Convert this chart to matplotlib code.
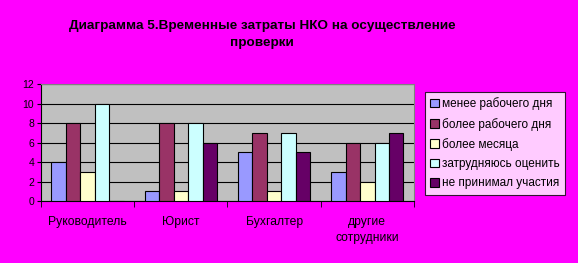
import numpy as np
import matplotlib.pyplot as plt
from matplotlib.patches import Patch

plt.rcParams['font.family'] = ['Liberation Sans', 'DejaVu Sans']

categories = ["Руководитель", "Юрист", "Бухгалтер", "другие\nсотрудники"]
series_names = ["менее рабочего дня", "более рабочего дня", "более месяца",
                "затрудняюсь оценить", "не принимал участия"]
less_day = [4, 1, 5, 3]
more_day = [8, 8, 7, 6]
more_month = [3, 1, 1, 2]
hard_to_say = [10, 8, 7, 6]
not_part = [0, 6, 5, 7]
series = [less_day, more_day, more_month, hard_to_say, not_part]
colors = ["#9999FF", "#993366", "#FFFFCC", "#CCFFFF", "#660066"]

fig = plt.figure(figsize=(5.78, 2.63), dpi=100)
fig.patch.set_facecolor("#FF00FF")
ax = fig.add_axes([0.0709, 0.2357, 0.6453, 0.4449])
ax.set_facecolor("#C0C0C0")

x = np.arange(len(categories))
bw = 0.155
for i, (vals, c) in enumerate(zip(series, colors)):
    ax.bar(x - 2 * bw + i * bw, vals, width=bw, color=c, edgecolor="black",
           linewidth=0.8, zorder=3)

ax.set_xlim(-0.5, len(categories) - 0.5)
ax.set_ylim(0, 12)
ax.set_yticks(range(0, 13, 2))
ax.yaxis.grid(True, color="black", linewidth=0.8, zorder=0)
ax.set_xticks(x)
ax.set_xticklabels(categories, fontsize=8.7, linespacing=1.4)
ax.tick_params(axis="x", length=0, pad=11)
ax.tick_params(axis="y", labelsize=7.5, length=3, pad=2)
# category separators on the x axis
ax.set_xticks(np.arange(-0.5, len(categories)), minor=True)
ax.tick_params(axis="x", which="minor", length=4, direction="out")
for s in ["top", "right"]:
    ax.spines[s].set_color("#808080")
ax.spines["left"].set_color("black")
ax.spines["bottom"].set_color("black")

fig.text(262 / 578, 1 - 34.5 / 263,
         "Диаграмма 5.Временные затраты НКО на осуществление\nпроверки",
         ha="center", va="center", fontsize=9.7, fontweight="bold", linespacing=1.65)

handles = [Patch(facecolor=c, edgecolor="black", linewidth=0.8) for c in colors]
leg = fig.legend(handles, series_names, loc="upper left",
                 bbox_to_anchor=(425 / 578, 1 - 92 / 263), fontsize=8.5,
                 frameon=True, fancybox=False, edgecolor="black",
                 handlelength=0.75, handleheight=0.75, handletextpad=0.25,
                 labelspacing=0.62, borderpad=0.45, borderaxespad=0)
leg.get_frame().set_linewidth(0.8)

fig.savefig("out.png", dpi=100, facecolor=fig.get_facecolor())
